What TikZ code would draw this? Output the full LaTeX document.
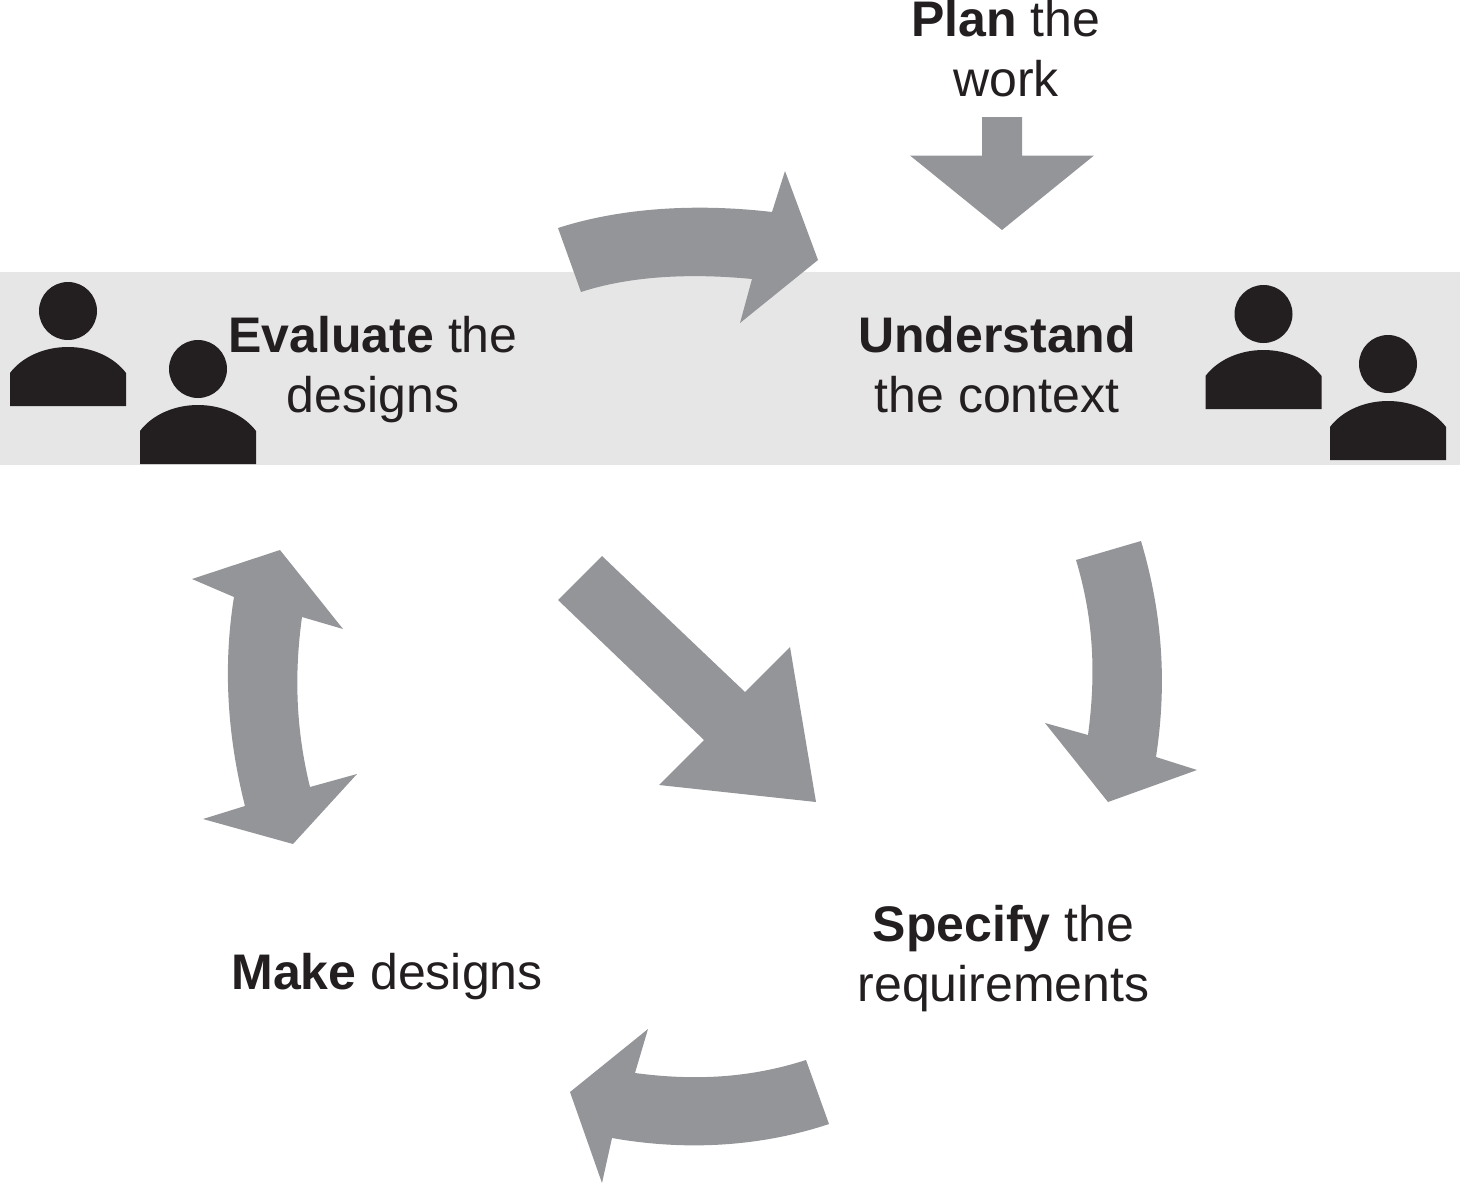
\documentclass[tikz,border=0pt]{standalone}
\usepackage{fontspec}
\setmainfont{Liberation Sans}
\definecolor{arrowgray}{HTML}{939598}
\definecolor{bandgray}{HTML}{E6E6E6}
\definecolor{ink}{HTML}{231F20}
\tikzset{
  arrowshape/.style={fill=arrowgray,draw=none},
  lbl/.style={align=center,text=ink,font=\fontsize{50pt}{60pt}\selectfont,inner sep=0pt},
  personpart/.style={fill=ink,draw=none}
}
\newcommand{\personicon}[3]{%
  \fill[personpart] (#1,#2) circle (29);
  \fill[personpart] (#1-58,#3) -- (#1-58,#3-33) .. controls (#1-46,#3-49) and (#1-24,#3-59) .. (#1,#3-59) .. controls (#1+24,#3-59) and (#1+46,#3-49) .. (#1+58,#3-33) -- (#1+58,#3) -- cycle;
}
\begin{document}
\begin{tikzpicture}[x=1pt,y=-1pt]
\useasboundingbox (0,0) rectangle (1460,1183);
\fill[bandgray] (0,272) rectangle (1460,464.5);
% arrows
\fill[arrowshape] (558,228) .. controls (620,208) and (695,203) .. (772,212) -- (785,171) -- (818,260) -- (740,323) -- (752,279) .. controls (690,273) and (630,276) .. (581,292) -- cycle;
\fill[arrowshape] (982,117) -- (1022,117) -- (1022,155.5) -- (1094,155.5) -- (1002,230) -- (910,155.5) -- (982,155.5) -- cycle;
\fill[arrowshape] (1076,560) -- (1141,541) .. controls (1163,615) and (1167,685) .. (1156,757) -- (1197,770) -- (1108,802) -- (1045,723) -- (1088,735) .. controls (1096,675) and (1094,620) .. (1076,560) -- cycle;
\fill[arrowshape] (602,556) -- (745,692) -- (790,647) -- (816,802) -- (659,785) -- (704,740) -- (558,600) -- cycle;
\fill[arrowshape] (806,1060) -- (829,1124) .. controls (760,1147) and (685,1151) .. (612,1138) -- (602,1183) -- (570,1092) -- (648,1029) -- (635,1073) .. controls (695,1081) and (750,1078) .. (806,1060) -- cycle;
\fill[arrowshape] (280,550) -- (343,629) -- (302,617) .. controls (294,675) and (296,730) .. (310,787) -- (357,774) -- (293,844) -- (203,819) -- (245,806) .. controls (227,735) and (223,665) .. (234,597) -- (192,579) -- cycle;
% people
\personicon{68}{311}{406}
\personicon{198}{369}{464}
\personicon{1263.5}{314}{409}
\personicon{1388}{364}{460}
% labels
\node[lbl] (plan) at (1006,49) {\textbf{Plan} the\\work};
\node[lbl] (evaluate) at (373,369.5) {\textbf{Evaluate} the\\designs};
\node[lbl] (understand) at (997,364.5) {\textbf{Understand}\\the context};
\node[lbl] (specify) at (1003.5,958.5) {\textbf{Specify} the\\requirements};
\node[lbl] (make) at (387,976.5) {\textbf{Make} designs};
\end{tikzpicture}
\end{document}
